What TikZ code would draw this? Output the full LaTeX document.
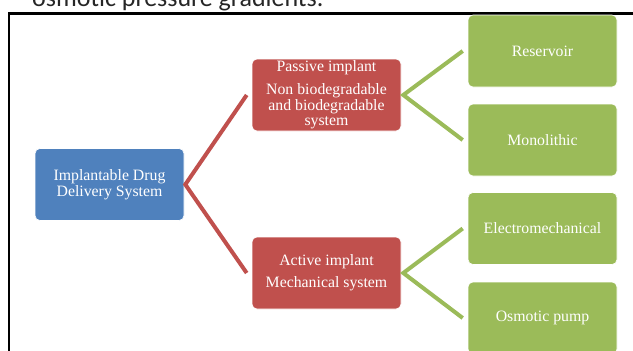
\documentclass[tikz,border=0pt]{standalone}
\usepackage{fontspec}
\setmainfont{Liberation Serif}
\newfontfamily\captionfont{Carlito}
\usetikzlibrary{calc}
\definecolor{sablue}{HTML}{4F81BD}
\definecolor{sared}{HTML}{C0504D}
\definecolor{sagreen}{HTML}{9BBB59}
\tikzset{
  boxbase/.style={rounded corners=5pt, draw=white, line width=0.6pt, text=white,
    minimum width=149pt, minimum height=72pt, inner sep=0pt, align=center,
    font=\fontsize{15.8}{15.5}\selectfont},
  bluebox/.style={boxbase, fill=sablue},
  redbox/.style={boxbase, fill=sared},
  greenbox/.style={boxbase, fill=sagreen},
  redlink/.style={draw=sared, line width=4pt, miter limit=10},
  greenlink/.style={draw=sagreen, line width=4pt, miter limit=10},
}
\begin{document}
\begin{tikzpicture}[x=1pt,y=-1pt]
\useasboundingbox (0,0) rectangle (633,351);
\begin{scope}
  \clip (0,0) rectangle (633,351);
  \node[anchor=base west, inner sep=0pt, font=\captionfont\fontsize{26}{30}\selectfont, text=black!85] (caption) at (32,6.5) {osmotic pressure gradients.};
\end{scope}
\coordinate (frameA) at (9,360);
\coordinate (frameB) at (9,13.5);
\coordinate (frameC) at (640,13.5);
\draw[line width=2.3pt] (frameA) -- (frameB) -- (frameC);

\node[bluebox] (root) at (109.5,184.5) {Implantable Drug\\Delivery System};
\node[redbox] (passive) at (326.5,95) {Passive implant\\[7.5pt]Non biodegradable\\and biodegradable\\system};
\node[redbox] (active) at (326.5,273) {Active implant\\[6.5pt]Mechanical system};
\node[greenbox] (reservoir) at (542.5,51) {Reservoir};
\node[greenbox] (mono) at (542.5,140) {Monolithic};
\node[greenbox] (electro) at (542.5,228.5) {Electromechanical};
\node[greenbox] (osmotic) at (542.5,318) {Osmotic pump};

\coordinate (rootv) at ($(root.east)+(1,0)$);
\coordinate (pend) at ($(passive.west)+(-5,0)$);
\coordinate (aend) at ($(active.west)+(-5,0)$);
\draw[redlink] (pend) -- (rootv) -- (aend);

\coordinate (pv) at ($(passive.east)+(2,0)$);
\coordinate (resend) at ($(reservoir.west)+(-5,0)$);
\coordinate (monend) at ($(mono.west)+(-5,0)$);
\draw[greenlink] (resend) -- (pv) -- (monend);

\coordinate (av) at ($(active.east)+(2,0)$);
\coordinate (eleend) at ($(electro.west)+(-5,0)$);
\coordinate (osmend) at ($(osmotic.west)+(-5,0)$);
\draw[greenlink] (eleend) -- (av) -- (osmend);
\end{tikzpicture}
\end{document}
